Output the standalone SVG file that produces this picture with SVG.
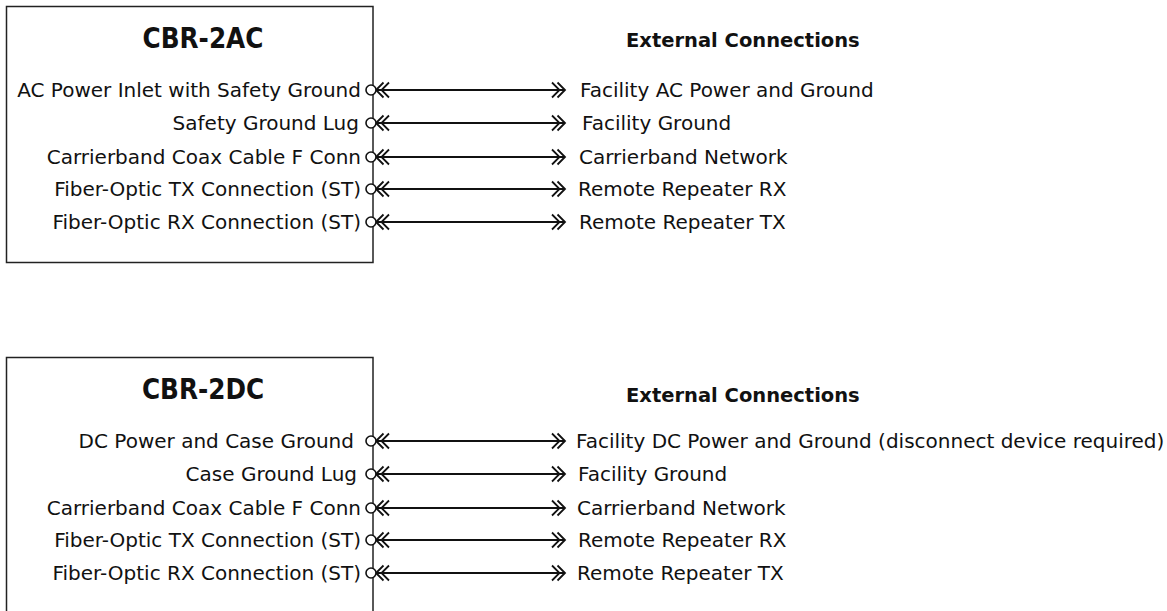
<svg xmlns="http://www.w3.org/2000/svg" width="1167" height="611" viewBox="0 0 1167 611">
<style>
.box{fill:#fff;stroke:#222;stroke-width:1.5}
.title{font-family:"DejaVu Sans Condensed","DejaVu Sans",sans-serif;font-weight:bold;font-size:27.5px;fill:#111;text-anchor:middle}
.hdr{font-family:"DejaVu Sans",Verdana,sans-serif;font-weight:bold;font-size:19.5px;fill:#111}
.lbl{font-family:"DejaVu Sans",Verdana,sans-serif;font-size:20px;fill:#111}
.port{text-anchor:end}
.pin{fill:#fff;stroke:#111;stroke-width:1.6}
.wire{stroke:#111;stroke-width:2;fill:none;marker-start:url(#dchev);marker-end:url(#dchev)}
</style>
<defs>
<marker id="dchev" markerUnits="userSpaceOnUse" viewBox="-16 -10 18 20" refX="0" refY="0" markerWidth="18" markerHeight="20" orient="auto-start-reverse">
<path d="M-7.5,-7.5 L0,0 L-7.5,7.5 M-13,-7.5 L-5.5,0 L-13,7.5" fill="none" stroke="#111" stroke-width="1.8"/>
</marker>
</defs>
<g id="cbr2ac">
<rect class="box" x="6.5" y="6.5" width="366.5" height="256"/>
<text class="title" x="203" y="48">CBR-2AC</text>
<text class="lbl port" x="361" y="97">AC Power Inlet with Safety Ground</text>
<text class="lbl port" x="359" y="130">Safety Ground Lug</text>
<text class="lbl port" x="361" y="164">Carrierband Coax Cable F Conn</text>
<text class="lbl port" x="361" y="196">Fiber-Optic TX Connection (ST)</text>
<text class="lbl port" x="361" y="229">Fiber-Optic RX Connection (ST)</text>
</g>
<g id="cbr2dc">
<rect class="box" x="6.5" y="357.5" width="366.5" height="270"/>
<text class="title" x="203" y="399">CBR-2DC</text>
<text class="lbl port" x="354" y="448">DC Power and Case Ground</text>
<text class="lbl port" x="357" y="481">Case Ground Lug</text>
<text class="lbl port" x="361" y="515">Carrierband Coax Cable F Conn</text>
<text class="lbl port" x="361" y="547">Fiber-Optic TX Connection (ST)</text>
<text class="lbl port" x="361" y="580">Fiber-Optic RX Connection (ST)</text>
</g>
<g id="ext-ac">
<text class="hdr" x="626" y="47">External Connections</text>
<text class="lbl" x="580" y="97">Facility AC Power and Ground</text>
<text class="lbl" x="582" y="130">Facility Ground</text>
<text class="lbl" x="579" y="164">Carrierband Network</text>
<text class="lbl" x="578" y="196">Remote Repeater RX</text>
<text class="lbl" x="579" y="229">Remote Repeater TX</text>
</g>
<g id="ext-dc">
<text class="hdr" x="626" y="402">External Connections</text>
<text class="lbl" x="576" y="448">Facility DC Power and Ground (disconnect device required)</text>
<text class="lbl" x="578" y="481">Facility Ground</text>
<text class="lbl" x="577" y="515">Carrierband Network</text>
<text class="lbl" x="578" y="547">Remote Repeater RX</text>
<text class="lbl" x="577" y="580">Remote Repeater TX</text>
</g>
<g id="connectors">
<path class="wire" d="M376,90 H565"/>
<path class="wire" d="M376,123 H565"/>
<path class="wire" d="M376,157 H565"/>
<path class="wire" d="M376,189 H565"/>
<path class="wire" d="M376,222 H565"/>
<path class="wire" d="M376,441 H565"/>
<path class="wire" d="M376,474 H565"/>
<path class="wire" d="M376,508 H565"/>
<path class="wire" d="M376,540 H565"/>
<path class="wire" d="M376,573 H565"/>
<g class="pins">
<circle class="pin" cx="371" cy="90" r="5"/>
<circle class="pin" cx="371" cy="123" r="5"/>
<circle class="pin" cx="371" cy="157" r="5"/>
<circle class="pin" cx="371" cy="189" r="5"/>
<circle class="pin" cx="371" cy="222" r="5"/>
<circle class="pin" cx="371" cy="441" r="5"/>
<circle class="pin" cx="371" cy="474" r="5"/>
<circle class="pin" cx="371" cy="508" r="5"/>
<circle class="pin" cx="371" cy="540" r="5"/>
<circle class="pin" cx="371" cy="573" r="5"/>
</g>
</g>
</svg>
